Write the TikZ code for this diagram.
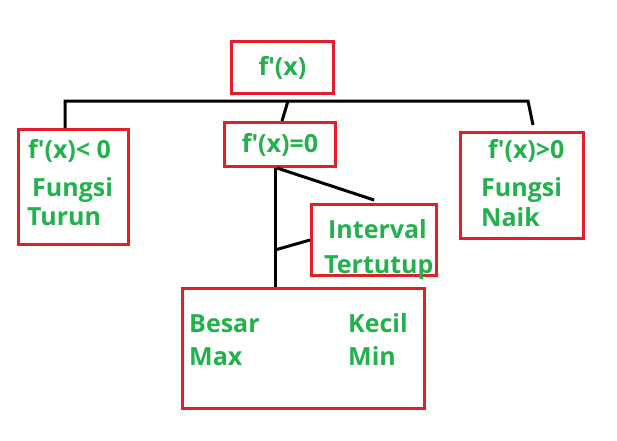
\documentclass[tikz,border=0pt]{standalone}
\usepackage{fontspec}
\setmainfont{Open Sans}
\usepackage{tikz}
\usetikzlibrary{positioning}
\definecolor{paintred}{RGB}{228,30,40}
\definecolor{paintgreen}{RGB}{34,177,76}
\newcommand{\fpr}{f\textquotesingle}

\begin{document}
\begin{tikzpicture}[x=1pt, y=-1pt,
    every node/.style={font={\bfseries\fontsize{25}{30}\selectfont}},
    box/.style={draw=paintred, line width=3pt, inner sep=0pt, text=paintgreen},
    lbl/.style={text=paintgreen, inner sep=0pt, anchor=base west},
    conn/.style={line width=3pt}]
  \useasboundingbox (0,0) rectangle (617,440);
  % kotak-kotak
  \node[box, minimum width=102, minimum height=52] (fx)  at (282.5,67.5) {\fpr(x)};
  \node[box, minimum width=110, minimum height=115] (neg) at (73.5,187)  {};
  \node[box, minimum width=111, minimum height=44]  (nol) at (280,144.5) {\fpr(x)=0};
  \node[box, minimum width=123, minimum height=106] (pos) at (522,185.5) {};
  \node[box, minimum width=125, minimum height=71]  (ivl) at (374,240)   {};
  \node[box, minimum width=242, minimum height=120] (ext) at (303.5,348.5) {};
  % isi
  \node[lbl] (negA) at (28,158)  {\fpr(x)< 0};
  \node[lbl] (negB) at (32,196)  {Fungsi};
  \node[lbl] (negC) at (27,225)  {Turun};
  \node[lbl] (posA) at (488,158) {\fpr(x)>0};
  \node[lbl] (posB) at (481,196) {Fungsi};
  \node[lbl] (posC) at (481,226) {Naik};
  \node[lbl] (ivlA) at (328,238) {Interval};
  \node[lbl] (ivlB) at (324,273) {Tertutup};
  \node[lbl] (maxA) at (189,332) {Besar};
  \node[lbl] (maxB) at (189,365) {Max};
  \node[lbl] (minA) at (348,332) {Kecil};
  \node[lbl] (minB) at (348,365) {Min};
  % garis
  \coordinate (barL) at (65,101);
  \coordinate (barM) at (288,101);
  \coordinate (barR) at (528,101);
  \coordinate (posT) at (533,125);
  \coordinate (stem) at (275,250);
  \draw[conn] (neg.north -| barL) -- (barL) -- (barR) -- (posT);
  \draw[conn] (barM) -- ([xshift=2pt]nol.north);
  \draw[conn] (nol.south -| stem) -- (stem |- ext.north);
  \draw[conn] (stem) -- (ivl.west);
  \draw[conn] ([xshift=-3pt]nol.south) -- ([yshift=3pt]ivl.north);
\end{tikzpicture}
\end{document}
